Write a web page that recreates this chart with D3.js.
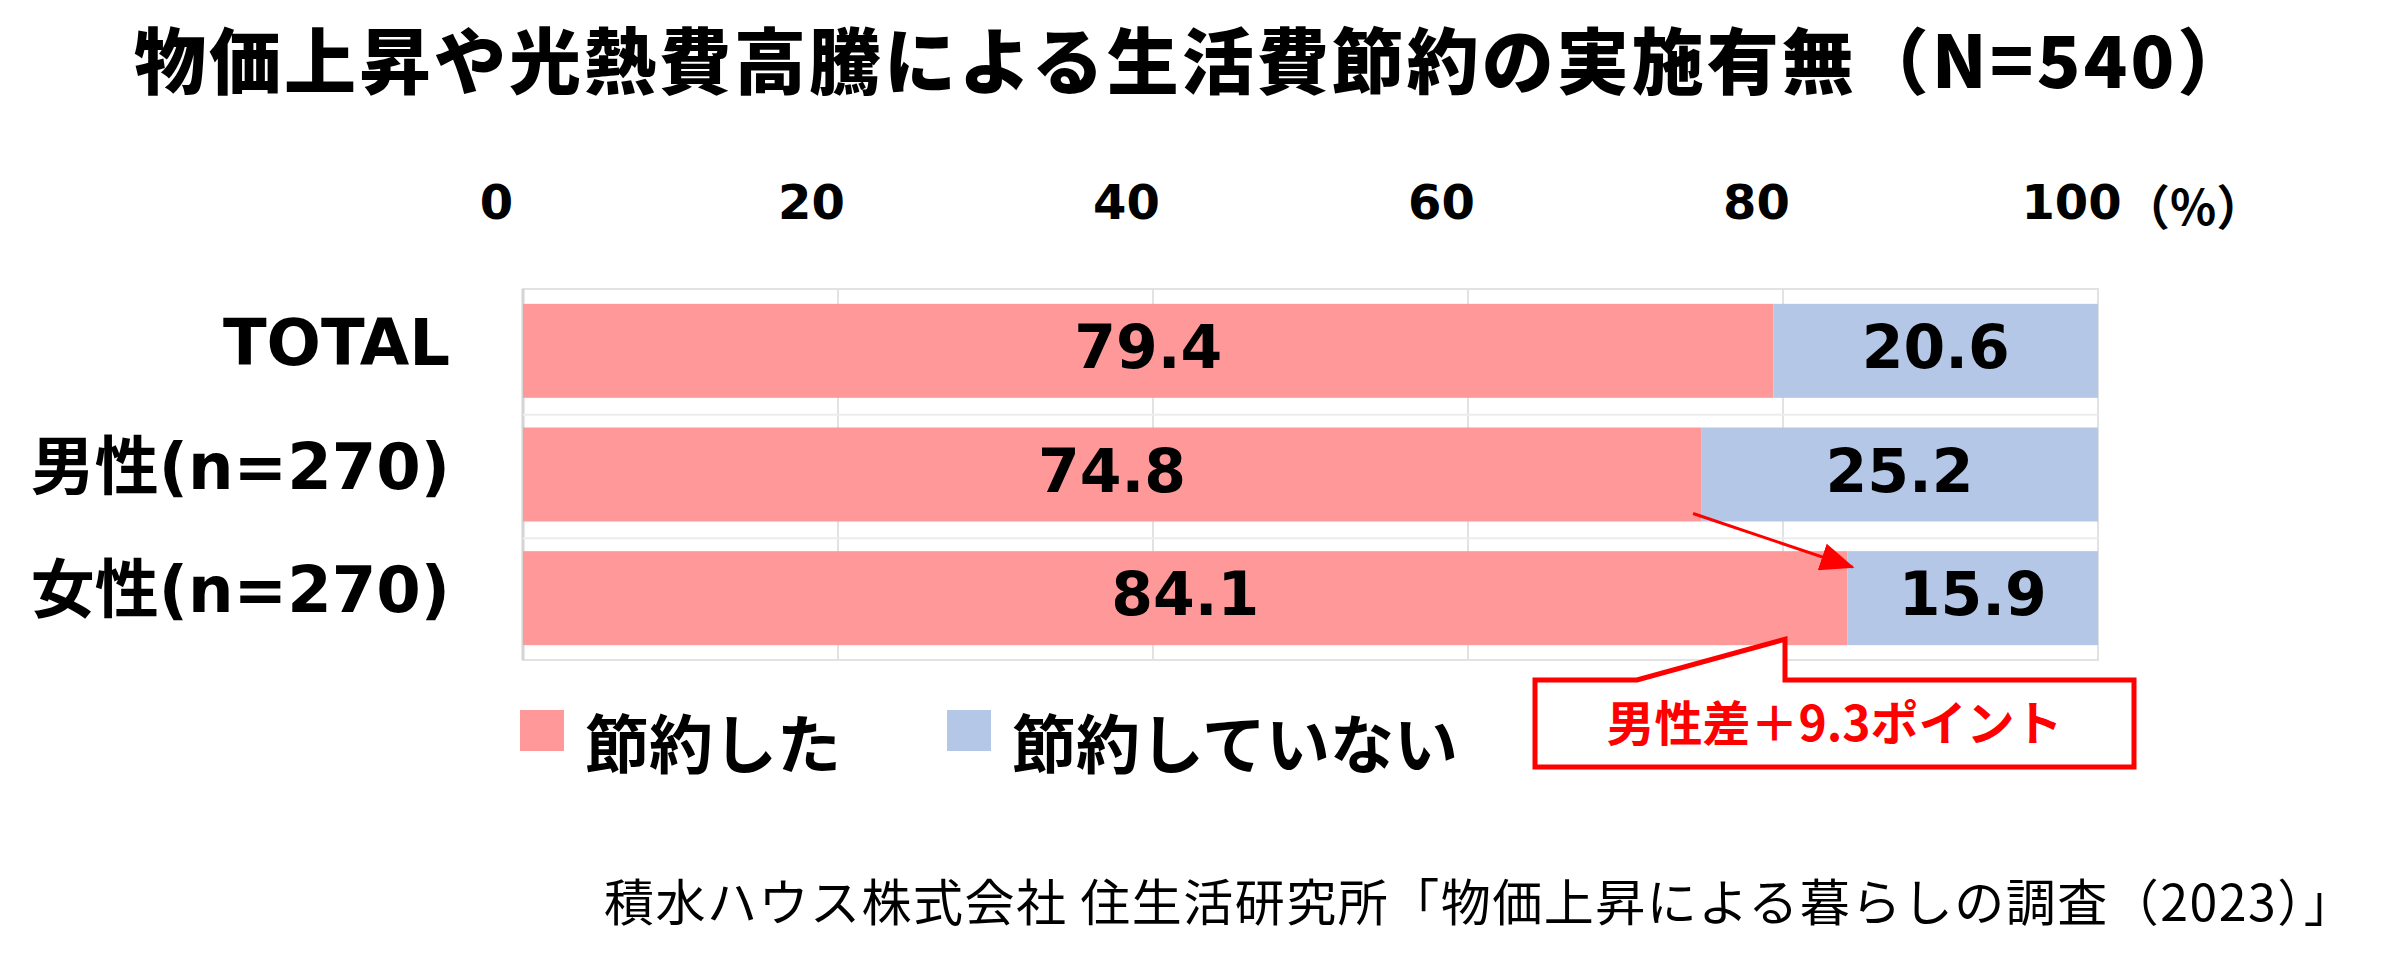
<!DOCTYPE html>
<html>
<head>
<meta charset="utf-8">
<script src="https://cdn.jsdelivr.net/npm/d3@7"></script>
<style>
  body { margin: 0; background: #fff; }
  text { font-family: "Noto Sans CJK JP", sans-serif; }
  .latin { font-family: "DejaVu Sans", "Noto Sans CJK JP", sans-serif; }
</style>
</head>
<body>
<div id="chart"></div>
<script>
var svgWidth = 2395,
	svgHeight = 967;

// data
var categories = ['TOTAL', '男性(n=270)', '女性(n=270)'];
var savedValues = [79.4, 74.8, 84.1];
var notSavedValues = [20.6, 25.2, 15.9];
var seriesNames = ['節約した', '節約していない'];
var seriesColors = ['#FF9999', '#B4C7E7'];
var tickValues = [0, 20, 40, 60, 80, 100];

var plot = { l: 523, r: 2098, t: 289, b: 660 };

var svg = d3.select('#chart')
	.append('svg')
	.attr('width', svgWidth)
	.attr('height', svgHeight);

var xScale = d3.scaleLinear()
	.domain([0, 100])
	.range([plot.l, plot.r]);

var yScale = d3.scaleBand()
	.domain(categories)
	.range([plot.t, plot.b])
	.paddingInner(0.24)
	.paddingOuter(0.12);

// title
svg.append('text')
	.attr('x', 134)
	.attr('y', 56)
	.attr('dominant-baseline', 'central')
	.attr('font-size', 72)
	.attr('font-weight', 900)
	.attr('letter-spacing', 3)
	.text('物価上昇や光熱費高騰による生活費節約の実施有無（N=540）');

// grid + frame
var grid = svg.append('g');
grid.append('rect')
	.attr('x', plot.l).attr('y', plot.t)
	.attr('width', plot.r - plot.l).attr('height', plot.b - plot.t)
	.attr('fill', 'none')
	.attr('stroke', '#e2e2e2')
	.attr('stroke-width', 2);

grid.selectAll('line.v')
	.data(tickValues)
	.enter()
	.append('line')
	.attr('x1', d => xScale(d)).attr('x2', d => xScale(d))
	.attr('y1', plot.t).attr('y2', plot.b)
	.attr('stroke', d => d === 0 ? '#d4d4d4' : '#e2e2e2')
	.attr('stroke-width', d => d === 0 ? 3 : 2);

var step = yScale.step();
grid.selectAll('line.h')
	.data(categories.slice(1))
	.enter()
	.append('line')
	.attr('x1', plot.l).attr('x2', plot.r)
	.attr('y1', d => yScale(d) - (step - yScale.bandwidth()) / 2 + 2)
	.attr('y2', d => yScale(d) - (step - yScale.bandwidth()) / 2 + 2)
	.attr('stroke', '#ececec')
	.attr('stroke-width', 2);

// top axis labels (shifted left of the gridlines like the original)
var xAxis = svg.append('g')
	.attr('transform', 'translate(-27,202)')
	.call(d3.axisTop(xScale).tickValues(tickValues).tickSize(0).tickPadding(0));
xAxis.select('.domain').remove();
xAxis.selectAll('text')
	.attr('class', 'latin')
	.attr('y', 0)
	.attr('dy', null)
	.attr('dominant-baseline', 'central')
	.attr('font-size', 48)
	.attr('font-weight', 'bold')
	.attr('fill', '#000');

svg.append('text')
	.attr('x', xScale(100) + 24)
	.attr('y', 204)
	.attr('dominant-baseline', 'central')
	.attr('font-size', 48)
	.attr('font-weight', 'bold')
	.text('（%）');

// bars
var rows = categories.map((c, i) => ({ cat: c, saved: savedValues[i], notSaved: notSavedValues[i] }));

var barGroup = svg.append('g');
barGroup.selectAll('rect.saved')
	.data(rows)
	.enter()
	.append('rect')
	.attr('x', xScale(0))
	.attr('y', d => yScale(d.cat))
	.attr('width', d => xScale(d.saved) - xScale(0))
	.attr('height', yScale.bandwidth())
	.attr('fill', seriesColors[0]);

barGroup.selectAll('rect.notsaved')
	.data(rows)
	.enter()
	.append('rect')
	.attr('x', d => xScale(d.saved))
	.attr('y', d => yScale(d.cat))
	.attr('width', d => xScale(d.saved + d.notSaved) - xScale(d.saved))
	.attr('height', yScale.bandwidth())
	.attr('fill', seriesColors[1]);

// value labels
barGroup.selectAll('text.v1')
	.data(rows)
	.enter()
	.append('text')
	.attr('class', 'latin')
	.attr('x', d => (xScale(0) + xScale(d.saved)) / 2)
	.attr('y', d => yScale(d.cat) + yScale.bandwidth() / 2 - 4)
	.attr('text-anchor', 'middle')
	.attr('dominant-baseline', 'central')
	.attr('font-size', 60)
	.attr('font-weight', 'bold')
	.text(d => d.saved.toFixed(1));

barGroup.selectAll('text.v2')
	.data(rows)
	.enter()
	.append('text')
	.attr('class', 'latin')
	.attr('x', d => (xScale(d.saved) + xScale(d.saved + d.notSaved)) / 2)
	.attr('y', d => yScale(d.cat) + yScale.bandwidth() / 2 - 4)
	.attr('text-anchor', 'middle')
	.attr('dominant-baseline', 'central')
	.attr('font-size', 60)
	.attr('font-weight', 'bold')
	.text(d => d.notSaved.toFixed(1));

// category labels
svg.selectAll('text.cat')
	.data(categories)
	.enter()
	.append('text')
	.attr('class', 'latin')
	.attr('x', 450)
	.attr('y', d => yScale(d) + yScale.bandwidth() / 2 - 8)
	.attr('text-anchor', 'end')
	.attr('dominant-baseline', 'central')
	.attr('font-size', 64)
	.attr('font-weight', 'bold')
	.text(d => d);

// legend
var legendX = [520, 947];
var legend = svg.append('g');
legend.selectAll('rect')
	.data(seriesNames)
	.enter()
	.append('rect')
	.attr('x', (d, i) => legendX[i])
	.attr('y', 710)
	.attr('width', 44)
	.attr('height', 41)
	.attr('fill', (d, i) => seriesColors[i]);
legend.selectAll('text')
	.data(seriesNames)
	.enter()
	.append('text')
	.attr('x', (d, i) => legendX[i] + 65)
	.attr('y', 740)
	.attr('dominant-baseline', 'central')
	.attr('font-size', 64)
	.attr('font-weight', 'bold')
	.text(d => d);

// arrow male -> female
svg.append('defs').append('marker')
	.attr('id', 'head')
	.attr('markerUnits', 'userSpaceOnUse')
	.attr('markerWidth', 34).attr('markerHeight', 28)
	.attr('refX', 32).attr('refY', 14)
	.attr('orient', 'auto')
	.append('path')
	.attr('d', 'M0,0 L34,14 L0,28 Z')
	.attr('fill', '#FF0000');

var maleCat = categories[1], femaleCat = categories[2];
svg.append('line')
	.attr('x1', xScale(savedValues[1]) - 8)
	.attr('y1', yScale(maleCat) + yScale.bandwidth() - 8)
	.attr('x2', xScale(savedValues[2]) + 5)
	.attr('y2', yScale(femaleCat) + 16)
	.attr('stroke', '#FF0000')
	.attr('stroke-width', 3)
	.attr('marker-end', 'url(#head)');

// callout
var tipX = xScale(80) + 2,
	tipY = yScale(femaleCat) + yScale.bandwidth() - 6;
var box = { l: 1535, r: 2134, t: 680, b: 767 };
svg.append('path')
	.attr('d', `M${box.l},${box.t} L1637,${box.t} L${tipX},${tipY} L${tipX},${box.t} L${box.r},${box.t} L${box.r},${box.b} L${box.l},${box.b} Z`)
	.attr('fill', '#fff')
	.attr('stroke', '#FF0000')
	.attr('stroke-width', 5)
	.attr('stroke-linejoin', 'miter');

svg.append('text')
	.attr('x', (box.l + box.r) / 2)
	.attr('y', 720)
	.attr('text-anchor', 'middle')
	.attr('dominant-baseline', 'central')
	.attr('font-size', 48)
	.attr('font-weight', 'bold')
	.attr('fill', '#FF0000')
	.text('男性差＋9.3ポイント');

// source
svg.append('text')
	.attr('x', 604)
	.attr('y', 899)
	.attr('dominant-baseline', 'central')
	.attr('font-size', 50)
	.attr('letter-spacing', 1.5)
	.text('積水ハウス株式会社 住生活研究所「物価上昇による暮らしの調査（2023）」');
</script>
</body>
</html>
